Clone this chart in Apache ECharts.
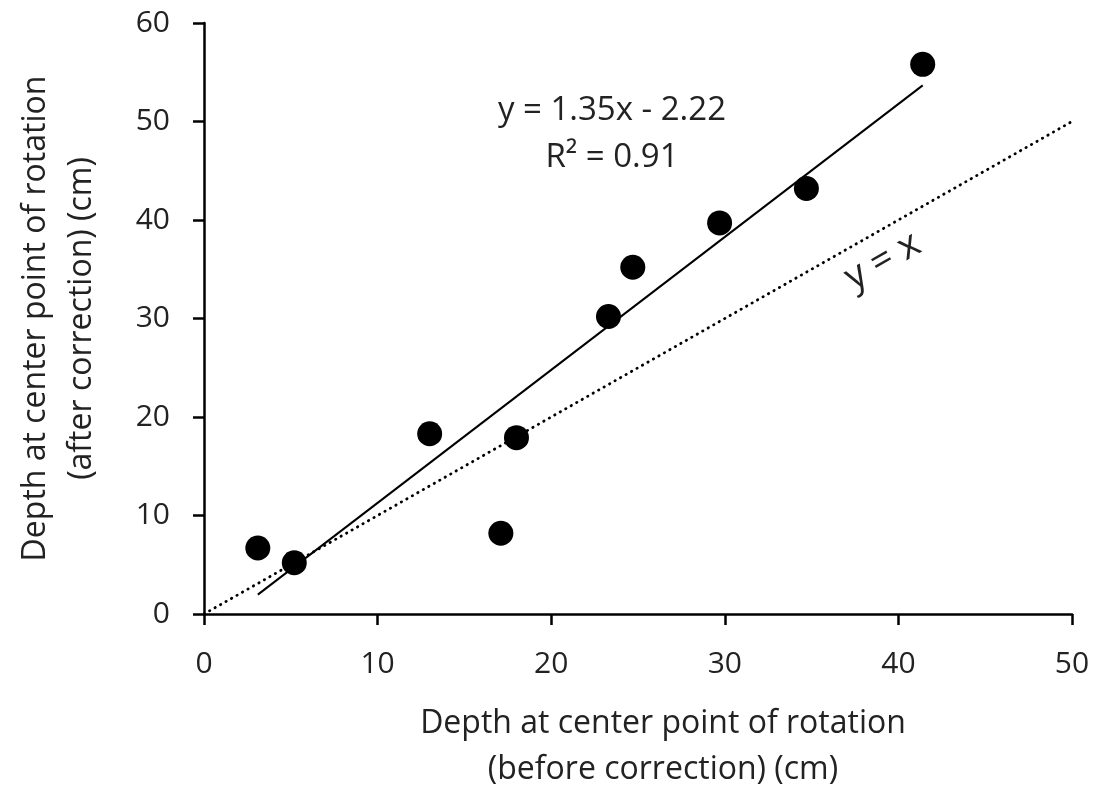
<!DOCTYPE html>
<html>
<head>
<meta charset="utf-8">
<script src="https://cdn.jsdelivr.net/npm/echarts@6/dist/echarts.min.js"></script>
<style>html,body{margin:0;padding:0;background:#fff}#c{width:1098px;height:790px}</style>
</head>
<body>
<div id="c"></div>
<script>
const pointsX = [3.1, 5.2, 13.0, 17.1, 18.0, 23.3, 24.7, 29.7, 34.7, 41.4];
const pointsY = [6.7, 5.2, 18.3, 8.2, 17.9, 30.2, 35.2, 39.7, 43.2, 55.8];
const trendX = [3.1, 41.4];
const trendY = [1.97, 53.67];
const identityX = [0, 50];
const identityY = [0, 50];
const xTicks = [0, 10, 20, 30, 40, 50];
const yTicks = [0, 10, 20, 30, 40, 50, 60];
const equationText = 'y = 1.35x - 2.22';
const r2Text = 'R² = 0.91';
const identityText = 'y = x';

const FONT = 'Open Sans';
const chart = echarts.init(document.getElementById('c'));
const axisCommon = {
  type: 'value',
  axisLine: {show: true, lineStyle: {color: '#000', width: 2.5}},
  axisTick: {show: true, inside: false, length: 11, lineStyle: {color: '#000', width: 2.5}},
  splitLine: {show: false},
  axisLabel: {color: '#222', fontSize: 30, fontFamily: FONT},
  nameTextStyle: {color: '#222', fontSize: 32, fontFamily: FONT, lineHeight: 46}
};
chart.setOption({
  animation: false,
  grid: {left: 204, right: 26, top: 23, bottom: 176, containLabel: false, outerBoundsMode: 'none'},
  xAxis: Object.assign({}, axisCommon, {
    min: xTicks[0], max: xTicks[xTicks.length - 1], interval: 10,
    axisLabel: Object.assign({}, axisCommon.axisLabel, {margin: 35}),
    name: 'Depth at center point of rotation\n(before correction) (cm)',
    nameLocation: 'middle', nameGap: 87,
    nameTextStyle: Object.assign({}, axisCommon.nameTextStyle, {padding: [0, 0, 0, 50]})
  }),
  yAxis: Object.assign({}, axisCommon, {
    min: yTicks[0], max: yTicks[yTicks.length - 1], interval: 10,
    axisLabel: Object.assign({}, axisCommon.axisLabel, {margin: 34}),
    name: 'Depth at center point of rotation\n(after correction) (cm)',
    nameLocation: 'middle', nameGap: 99
  }),
  series: [
    {
      type: 'line', data: identityX.map((x, i) => [x, identityY[i]]),
      symbol: 'none', lineStyle: {color: '#000', width: 2.8, type: [0.4, 5.9], cap: 'round'}, z: 1
    },
    {
      type: 'line', data: trendX.map((x, i) => [x, trendY[i]]),
      symbol: 'none', lineStyle: {color: '#000', width: 2}, z: 2
    },
    {
      type: 'scatter', data: pointsX.map((x, i) => [x, pointsY[i]]),
      symbolSize: 25, itemStyle: {color: '#000', opacity: 1}, z: 3
    }
  ]
});
const eqPos = chart.convertToPixel({gridIndex: 0}, [23.5, 48.7]);
const idPos = chart.convertToPixel({gridIndex: 0}, [39.1, 35.8]);
const ang = Math.atan2(9.85 * 1, 17.37 * 1);
chart.setOption({
  graphic: [
    {type: 'text', x: eqPos[0], y: eqPos[1], style: {text: equationText + '\n' + r2Text, fontSize: 33, fontFamily: FONT, fill: '#222', align: 'center', verticalAlign: 'middle', lineHeight: 47}},
    {type: 'text', x: idPos[0], y: idPos[1], rotation: ang, style: {text: identityText, fontSize: 38, fontFamily: FONT, fill: '#222', align: 'center', verticalAlign: 'middle'}}
  ]
});
</script>
</body>
</html>
